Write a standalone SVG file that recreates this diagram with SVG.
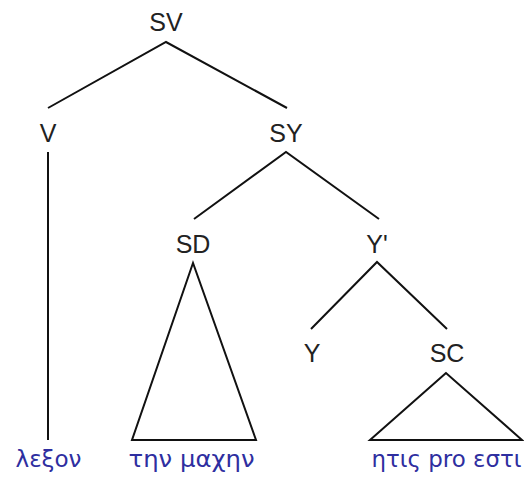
<svg xmlns="http://www.w3.org/2000/svg" width="524" height="481" viewBox="0 0 524 481">
<style>
.lbl{font-family:"Liberation Sans",Arial,sans-serif;font-size:25px;fill:#222;text-anchor:middle}
.leaf{font-family:"DejaVu Sans",Verdana,sans-serif;font-size:23px;fill:#2e2ea0;text-anchor:middle}
.ln{stroke:#111;stroke-width:2;fill:none;stroke-linejoin:miter}
</style>
<rect width="524" height="481" fill="#fff"/>
<g id="connectors">
<polyline class="ln" points="48,108 166,42 287,108"/>
<line class="ln" x1="48" y1="152" x2="48" y2="440"/>
<polyline class="ln" points="194,219 286,152 379,219"/>
<polygon class="ln" points="193,263 132,440 256,440"/>
<polyline class="ln" points="311,329 377,262 447,329"/>
<polygon class="ln" points="446,373 370,440 522,440"/>
</g>
<g id="SV"><text class="lbl" x="166" y="31">SV</text></g>
<g id="V"><text class="lbl" x="48" y="142">V</text></g>
<g id="SY"><text class="lbl" x="286" y="142">SY</text></g>
<g id="SD"><text class="lbl" x="193" y="253">SD</text></g>
<g id="Yp"><text class="lbl" x="377" y="253">Y'</text></g>
<g id="Y"><text class="lbl" x="312" y="362">Y</text></g>
<g id="SC"><text class="lbl" x="447" y="362">SC</text></g>
<g id="leaf1"><text class="leaf" x="48.5" y="467" textLength="66" lengthAdjust="spacingAndGlyphs">λεξον</text></g>
<g id="leaf2"><text class="leaf" x="191.5" y="467" textLength="126" lengthAdjust="spacingAndGlyphs">την μαχην</text></g>
<g id="leaf3"><text class="leaf" x="446.5" y="467" textLength="150" lengthAdjust="spacingAndGlyphs">ητις pro εστι</text></g>
</svg>
